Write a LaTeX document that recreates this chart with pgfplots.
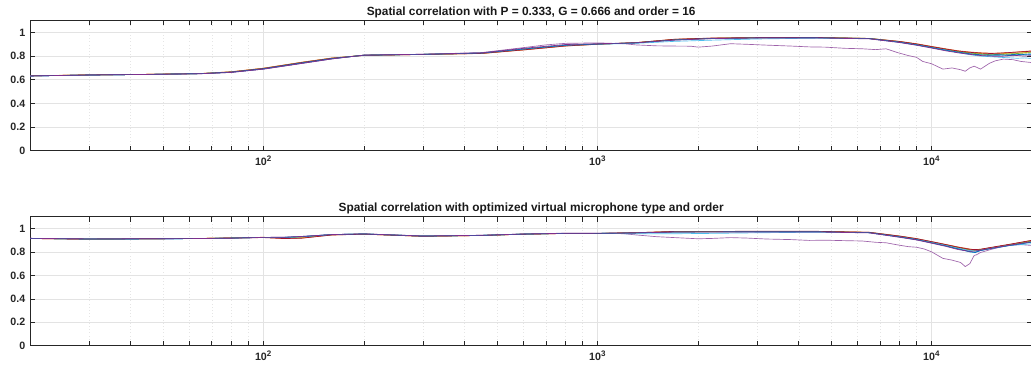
\documentclass[border=0pt]{standalone}
\usepackage{fontspec}
\setmainfont{Liberation Sans}
\usepackage{pgfplots}
\usepackage{pgfplotstable}
\pgfplotsset{compat=1.18}

\definecolor{mB}{rgb}{0,0.447,0.741}
\definecolor{mO}{rgb}{0.85,0.325,0.098}
\definecolor{mY}{rgb}{0.929,0.694,0.125}
\definecolor{mP}{rgb}{0.494,0.184,0.556}
\definecolor{mG}{rgb}{0.466,0.674,0.188}
\definecolor{mC}{rgb}{0.301,0.745,0.933}
\definecolor{mR}{rgb}{0.635,0.078,0.184}
\definecolor{axgray}{rgb}{0.15,0.15,0.15}

\pgfplotstableread{
x b o y p g c r bb
20 .632 .633 .634 .632 .633 .632 .633 .632
30 .640 .641 .641 .640 .640 .640 .641 .640
45 .645 .646 .646 .645 .645 .645 .646 .645
65 .652 .653 .653 .651 .652 .652 .652 .652
80 .664 .668 .667 .662 .665 .665 .666 .664
100 .692 .698 .697 .690 .695 .694 .696 .693
130 .740 .748 .747 .738 .745 .744 .746 .742
160 .778 .784 .783 .776 .781 .780 .782 .779
200 .808 .806 .808 .809 .808 .807 .806 .808
300 .815 .814 .815 .816 .815 .815 .814 .815
450 .826 .822 .823 .828 .825 .825 .823 .826
600 .860 .852 .855 .866 .858 .858 .853 .860
800 .892 .885 .888 .898 .890 .890 .886 .892
1000 .902 .900 .901 .905 .902 .900 .901 .902
1300 .912 .914 .913 .912 .913 .908 .914 .912
1700 .938 .942 .941 .935 .940 .925 .943 .937
2200 .950 .952 .951 .948 .950 .935 .953 .949
3000 .955 .957 .956 .953 .955 .945 .957 .954
4500 .956 .958 .957 .954 .956 .952 .958 .955
6500 .948 .950 .949 .946 .950 .950 .949 .948
8000 .918 .925 .922 .915 .922 .920 .924 .918
9000 .895 .905 .900 .892 .900 .898 .903 .896
10000 .872 .882 .878 .868 .876 .874 .880 .872
11000 .850 .862 .858 .845 .856 .853 .860 .850
12000 .832 .845 .840 .828 .838 .830 .843 .834
13000 .818 .835 .828 .815 .826 .812 .832 .820
14000 .812 .828 .822 .805 .818 .800 .826 .808
15000 .806 .825 .818 .800 .812 .795 .822 .810
16000 .808 .826 .820 .798 .815 .790 .825 .812
17000 .812 .830 .824 .802 .818 .786 .830 .805
18000 .815 .835 .826 .805 .822 .782 .834 .808
19000 .810 .840 .830 .800 .826 .785 .838 .815
20000 .812 .845 .835 .805 .830 .780 .842 .820
}\toptab

\pgfplotstableread{
x v
20 .632
30 .640
45 .645
65 .651
80 .662
100 .690
130 .738
160 .776
200 .809
300 .816
450 .830
600 .872
700 .895
800 .908
1000 .912
1200 .905
1300 .895
1500 .887
1700 .885
1900 .884
2000 .876
2200 .885
2500 .905
2800 .900
3200 .893
3800 .885
4300 .878
4800 .876
5500 .866
6200 .862
6800 .855
7300 .862
7900 .830
8500 .805
9000 .790
9400 .755
10000 .735
10800 .690
11500 .700
12200 .685
12600 .672
13000 .700
13400 .715
14000 .690
14900 .740
15500 .760
16400 .775
17500 .770
18500 .755
20000 .745
}\topout

\pgfplotstableread{
x b o y p g c r bb
20 .915 .914 .915 .916 .915 .915 .914 .915
30 .910 .909 .910 .911 .910 .910 .909 .910
45 .911 .912 .912 .912 .912 .911 .912 .911
65 .914 .915 .915 .914 .915 .914 .915 .914
80 .918 .919 .920 .917 .918 .918 .919 .918
100 .924 .925 .923 .924 .924 .924 .922 .924
115 .924 .915 .918 .925 .922 .923 .914 .924
130 .930 .918 .922 .932 .928 .929 .917 .930
160 .948 .945 .946 .948 .947 .947 .944 .948
200 .953 .951 .952 .954 .953 .953 .951 .953
300 .935 .933 .934 .936 .935 .935 .933 .935
450 .941 .940 .940 .942 .941 .941 .940 .941
600 .952 .951 .952 .953 .952 .952 .951 .952
800 .958 .957 .958 .959 .958 .958 .957 .958
1000 .958 .957 .957 .960 .958 .957 .957 .958
1300 .962 .964 .963 .962 .963 .955 .964 .962
1700 .970 .974 .972 .969 .971 .955 .975 .970
2200 .971 .974 .973 .969 .972 .958 .975 .971
3000 .972 .975 .974 .970 .973 .963 .976 .972
4500 .972 .975 .974 .970 .973 .968 .976 .972
6500 .964 .968 .966 .962 .966 .966 .967 .964
8000 .928 .936 .933 .925 .932 .932 .935 .928
9000 .905 .914 .910 .902 .910 .910 .913 .905
10000 .878 .888 .884 .874 .884 .884 .887 .877
11000 .852 .864 .860 .848 .860 .858 .863 .852
12000 .825 .842 .836 .820 .836 .832 .840 .826
13000 .800 .825 .815 .805 .818 .812 .822 .803
13500 .795 .818 .812 .808 .815 .808 .820 .798
14000 .812 .822 .818 .815 .820 .815 .823 .812
15000 .828 .836 .832 .830 .834 .830 .838 .828
17000 .855 .862 .858 .856 .860 .855 .864 .853
20000 .885 .898 .892 .888 .894 .870 .900 .884
}\bottab

\pgfplotstableread{
x v
20 .916
30 .911
45 .912
65 .914
80 .917
100 .924
115 .925
130 .932
160 .948
200 .954
300 .936
450 .942
600 .953
800 .960
1000 .960
1200 .955
1300 .945
1500 .930
1700 .922
2000 .912
2200 .915
2500 .922
2800 .918
3200 .910
3800 .905
4300 .898
4800 .900
5500 .896
6200 .893
6800 .882
7300 .878
7900 .860
8500 .845
9000 .840
9500 .825
10000 .800
10800 .745
11500 .730
12200 .710
12600 .675
13000 .700
13400 .770
13600 .775
14000 .795
15000 .820
16000 .840
17000 .855
18500 .862
20000 .855
}\botout

\pgfplotsset{
  matax/.style={
    scale only axis,
    width=751.7pt,
    xmin=20, xmax=20000,
    ymin=0, ymax=1.1,
    xtick={100,1000,10000},
    xticklabels={10\textsuperscript{2},10\textsuperscript{3},10\textsuperscript{4}},
    minor xtick={20,30,40,50,60,70,80,90,200,300,400,500,600,700,800,900,2000,3000,4000,5000,6000,7000,8000,9000},
    ytick={0,0.2,0.4,0.6,0.8,1},
    yticklabels={0,0.2,0.4,0.6,0.8,1},
    tick align=inside,
    major tick length=3.6pt,
    minor tick length=3.6pt,
    xmajorgrids, xminorgrids, ymajorgrids,
    major grid style={draw=black!11, line width=0.4pt},
    minor grid style={draw=black!10, line width=0.4pt, dotted},
    axis line style={draw=axgray, line width=0.45pt},
    every tick/.style={draw=axgray, line width=0.45pt},
    tick label style={font=\fontsize{8}{9}\selectfont\bfseries, text=axgray},
    xticklabel style={yshift=-0.5pt},
    title style={font=\fontsize{8.9}{10}\selectfont\bfseries, text=black!90, inner sep=1.6pt, yshift=-5.75pt},
    every axis plot/.append style={line width=0.5pt, no markers},
  }
}

\begin{document}
\begin{tikzpicture}
\useasboundingbox (0,0) rectangle (773.25pt,279pt);
\begin{semilogxaxis}[matax, at={(22.5pt,166pt)}, anchor=south west, height=97.5pt,
  title={Spatial correlation with P = 0.333, G = 0.666 and order = 16}]
\addplot[mB] table[x=x,y=b] {\toptab};
\addplot[mO] table[x=x,y=o] {\toptab};
\addplot[mY] table[x=x,y=y] {\toptab};
\addplot[mP!75] table[x=x,y=v] {\topout};
\addplot[mG] table[x=x,y=g] {\toptab};
\addplot[mC] table[x=x,y=c] {\toptab};
\addplot[mR] table[x=x,y=r] {\toptab};
\addplot[mB] table[x=x,y=bb] {\toptab};
\addplot[mP] table[x=x,y=p] {\toptab};
\end{semilogxaxis}
\begin{semilogxaxis}[matax, at={(22.5pt,19.7pt)}, anchor=south west, height=96.75pt,
  title={Spatial correlation with optimized virtual microphone type and order}]
\addplot[mB] table[x=x,y=b] {\bottab};
\addplot[mO] table[x=x,y=o] {\bottab};
\addplot[mY] table[x=x,y=y] {\bottab};
\addplot[mP!75] table[x=x,y=v] {\botout};
\addplot[mG] table[x=x,y=g] {\bottab};
\addplot[mC] table[x=x,y=c] {\bottab};
\addplot[mR] table[x=x,y=r] {\bottab};
\addplot[mB] table[x=x,y=bb] {\bottab};
\addplot[mP] table[x=x,y=p] {\bottab};
\end{semilogxaxis}
\end{tikzpicture}
\end{document}
